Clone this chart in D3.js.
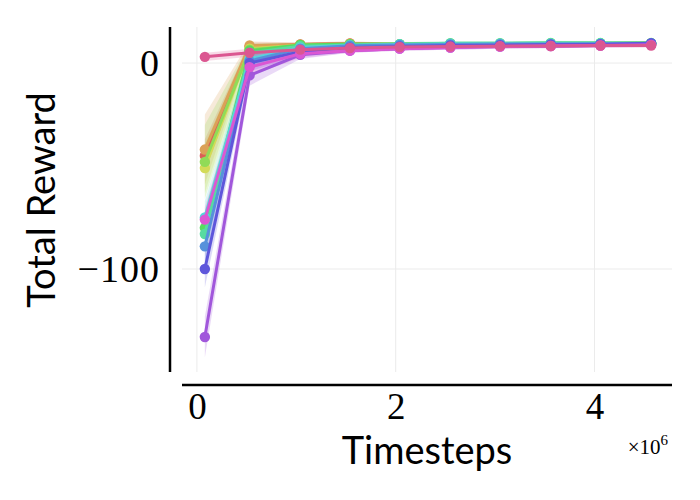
<!DOCTYPE html>
<html><head><meta charset="utf-8">
<script src="https://cdn.jsdelivr.net/npm/d3@7"></script>
<style>body{margin:0;background:#fff}svg{display:block}</style>
</head><body>
<svg id="chart" width="700" height="500"></svg>
<script>
// x values in millions of timesteps
const timesteps = [0.08, 0.53, 1.04, 1.54, 2.04, 2.55, 3.05, 3.56, 4.06, 4.57];
const colors = ["#db5f57","#dba157","#d3db57","#91db57","#57db5f","#57dba1","#57d3db","#5791db","#5f57db","#a157db","#db57d3","#db5791"];
const seriesMeans = [
  [-45, 8.0, 9.0, 9.5, 8.8, 9.0, 9.0, 9.1, 9.2, 9.3],
  [-42, 8.5, 9.0, 9.5, 9.0, 9.0, 9.1, 9.2, 9.3, 9.5],
  [-51, 7.0, 8.5, 9.0, 9.0, 9.1, 9.2, 9.3, 9.3, 9.5],
  [-48, 6.5, 8.7, 9.0, 9.0, 9.2, 9.3, 9.3, 9.5, 9.5],
  [-80, 6.0, 8.8, 9.2, 9.2, 9.5, 9.5, 9.6, 9.6, 9.7],
  [-83, 5.0, 8.2, 8.8, 9.1, 9.6, 9.6, 9.8, 9.7, 9.5],
  [-75, 2.0, 7.5, 8.5, 9.0, 9.2, 9.3, 9.3, 9.4, 9.5],
  [-89, 1.0, 7.0, 8.4, 8.8, 9.0, 9.2, 9.2, 9.3, 9.5],
  [-100, 0.0, 5.5, 7.5, 8.0, 8.5, 8.7, 9.0, 9.1, 9.6],
  [-133, -6.0, 4.0, 6.0, 7.0, 7.5, 8.0, 8.2, 8.5, 8.8],
  [-76, -2.0, 4.5, 6.0, 7.0, 7.5, 8.0, 8.3, 8.5, 8.8],
  [3.0, 5.0, 6.5, 7.3, 7.8, 8.0, 8.2, 8.3, 8.5, 8.5]
];
const seriesStds = [
  [8, 2, 1, 1, 1, 1, 1, 1, 1, 1],
  [17, 2, 1, 1, 1, 1, 1, 1, 1, 1],
  [12, 2, 1, 1, 1, 1, 1, 1, 1, 1],
  [18, 3, 1, 1, 1, 1, 1, 1, 1, 1],
  [8, 3, 1, 1, 1, 1, 1, 1, 1, 1],
  [8, 3, 1, 1, 1, 1, 1, 1, 1, 1],
  [8, 4, 2, 1, 1, 1, 1, 1, 1, 1],
  [8, 4, 2, 1, 1, 1, 1, 1, 1, 1],
  [9, 4, 2, 1, 1, 1, 1, 1, 1, 1],
  [10, 5, 2, 1, 1, 1, 1, 1, 1, 1],
  [6, 4, 2, 1, 1, 1, 1, 1, 1, 1],
  [2, 2, 1, 1, 1, 1, 1, 1, 1, 1]
];
const xTicks = [0, 2, 4];
const yTicks = [0, -100];

const svg = d3.select("#chart");
const x = d3.scaleLinear().domain([-0.15, 4.78]).range([182, 672]);
const y = d3.scaleLinear().domain([-150, 17.5]).range([372, 27]);

// grid
const grid = svg.append("g");
grid.selectAll("line.vx").data(xTicks).join("line")
  .attr("x1", d => x(d)).attr("x2", d => x(d)).attr("y1", 27).attr("y2", 372)
  .attr("stroke", "#ebebeb").attr("stroke-width", 1);
grid.selectAll("line.hy").data(yTicks).join("line")
  .attr("y1", d => y(d)).attr("y2", d => y(d)).attr("x1", 182).attr("x2", 672)
  .attr("stroke", "#ebebeb").attr("stroke-width", 1);

// bands
const area = d3.area().x((d) => x(d.t)).y0(d => y(d.m - d.s)).y1(d => y(d.m + d.s));
const line = d3.line().x(d => x(d.t)).y(d => y(d.m));
const data = seriesMeans.map((ms, i) => ms.map((m, j) => ({t: timesteps[j], m, s: seriesStds[i][j]})));

svg.append("g").selectAll("path").data(data).join("path")
  .attr("d", area).attr("fill", (d, i) => colors[i]).attr("fill-opacity", 0.22).attr("stroke", "none");

data.forEach((d, i) => {
  const g = svg.append("g");
  g.append("path").attr("d", line(d)).attr("fill", "none")
    .attr("stroke", colors[i]).attr("stroke-width", 3);
  g.selectAll("circle").data(d).join("circle")
    .attr("cx", p => x(p.t)).attr("cy", p => y(p.m)).attr("r", 5.2)
    .attr("fill", colors[i]);
});

// axes (offset spines)
const xAxis = d3.axisBottom(x).tickValues(xTicks).tickSize(0).tickPadding(8).tickFormat(d3.format("d"));
const gx = svg.append("g").attr("transform", "translate(0,385)").call(xAxis);
gx.select(".domain").attr("d", "M182,0H672").attr("stroke", "#000").attr("stroke-width", 2.5);
gx.selectAll("text").attr("font-family", "'Liberation Serif', serif").attr("font-size", 37).attr("fill", "#000").attr("dy", "0.7em");

const yAxis = d3.axisLeft(y).tickValues(yTicks).tickSize(0).tickPadding(10).tickFormat(d => d < 0 ? "\u2212" + Math.abs(d) : d);
const gy = svg.append("g").attr("transform", "translate(170,0)").call(yAxis);
gy.select(".domain").attr("d", "M0,27V372").attr("stroke", "#000").attr("stroke-width", 2.5);
gy.selectAll("text").attr("font-family", "'Liberation Serif', serif").attr("font-size", 38).attr("fill", "#000")
  .attr("letter-spacing", 1);

// labels
svg.append("text").attr("x", 427).attr("y", 464).attr("text-anchor", "middle")
  .attr("font-family", "Lato, sans-serif").attr("font-size", 38).attr("fill", "#000").text("Timesteps");
svg.append("text").attr("transform", "translate(55,200) rotate(-90)").attr("text-anchor", "middle")
  .attr("font-family", "Lato, sans-serif").attr("font-size", 38).attr("fill", "#000").text("Total Reward");
const mult = svg.append("text").attr("x", 668).attr("y", 454).attr("text-anchor", "end")
  .attr("font-family", "'Liberation Serif', serif").attr("font-size", 21).attr("fill", "#000");
mult.append("tspan").text("\u00d710");
mult.append("tspan").attr("dy", -9).attr("font-size", 15).text("6");
</script>
</body></html>
